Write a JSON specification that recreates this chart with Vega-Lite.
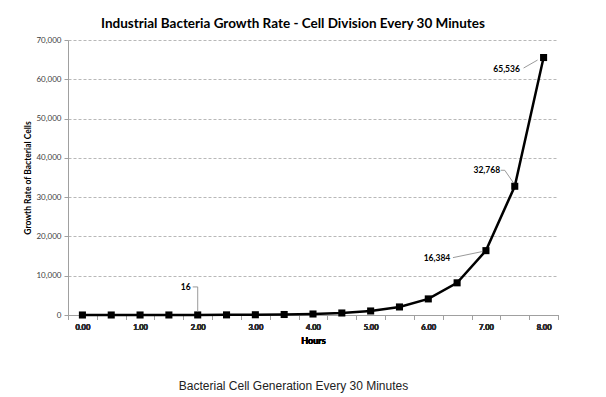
{
  "$schema": "https://vega.github.io/schema/vega-lite/v6.json",
  "autosize": {"type": "none"},
  "width": 490,
  "height": 275,
  "padding": {"left": 68, "top": 40, "right": 48, "bottom": 82},
  "background": "white",
  "config": {"font": "Lato", "view": {"stroke": null}},
  "title": {
    "text": "Industrial Bacteria Growth Rate - Cell Division Every 30 Minutes",
    "font": "Lato",
    "fontSize": 13.5,
    "fontWeight": "bold",
    "color": "#000000",
    "anchor": "middle",
    "dx": -20,
    "offset": 6
  },
  "data": {
    "values": [
      {"hours": 0, "cells": 1},
      {"hours": 0.5, "cells": 2},
      {"hours": 1, "cells": 4},
      {"hours": 1.5, "cells": 8},
      {"hours": 2, "cells": 16},
      {"hours": 2.5, "cells": 32},
      {"hours": 3, "cells": 64},
      {"hours": 3.5, "cells": 128},
      {"hours": 4, "cells": 256},
      {"hours": 4.5, "cells": 512},
      {"hours": 5, "cells": 1024},
      {"hours": 5.5, "cells": 2048},
      {"hours": 6, "cells": 4096},
      {"hours": 6.5, "cells": 8192},
      {"hours": 7, "cells": 16384},
      {"hours": 7.5, "cells": 32768},
      {"hours": 8, "cells": 65536}
    ]
  },
  "encoding": {
    "x": {
      "field": "hours",
      "type": "ordinal",
      "scale": {"type": "band", "paddingInner": 0, "paddingOuter": 0},
      "bandPosition": 0.5,
      "axis": {
        "orient": "bottom",
        "title": "Hours",
        "titleFont": "Lato",
        "titleFontSize": 9,
        "titleFontWeight": "bold",
        "titleColor": "#000000",
        "titlePadding": 6,
        "labelAngle": 0,
        "labelExpr": "datum.value % 1 == 0 ? format(datum.value, '.2f') : ''",
        "labelFontSize": 7.5,
        "labelFontWeight": "bold",
        "labelColor": "#303030",
        "labelPadding": 4,
        "tickBand": "extent",
        "tickSize": 4,
        "tickColor": "#a0a0a0",
        "domainColor": "#a0a0a0",
        "grid": false
      }
    },
    "y": {
      "field": "cells",
      "type": "quantitative",
      "scale": {"domain": [0, 70000], "nice": false},
      "axis": {
        "title": "Growth Rate of Bacterial Cells",
        "titleFont": "Lato",
        "titleFontSize": 8.5,
        "titleFontWeight": "bold",
        "titleColor": "#000000",
        "titlePadding": 3,
        "values": [0, 10000, 20000, 30000, 40000, 50000, 60000, 70000],
        "format": ",d",
        "labelFontSize": 8,
        "labelColor": "#404040",
        "labelPadding": 3,
        "tickSize": 4,
        "tickColor": "#a0a0a0",
        "domainColor": "#a0a0a0",
        "grid": true,
        "gridColor": "#b8b8b8",
        "gridDash": [3, 2],
        "gridWidth": 1
      }
    }
  },
  "layer": [
    {
      "mark": {"type": "line", "color": "#000000", "strokeWidth": 2.5}
    },
    {
      "mark": {"type": "square", "color": "#000000", "filled": true, "opacity": 1, "size": 50}
    },
    {
      "mark": {"type": "point", "opacity": 0},
      "encoding": {
        "x": {
          "field": "hours",
          "type": "ordinal",
          "bandPosition": 0.5,
          "axis": {
            "orient": "bottom",
            "title": "Bacterial Cell Generation Every 30 Minutes",
            "titleFont": "Liberation Sans",
            "titleFontSize": 12,
            "titleFontWeight": "normal",
            "titleColor": "#222222",
            "titlePadding": 65,
            "titleX": 225,
            "labels": false,
            "ticks": false,
            "domain": false,
            "grid": false
          }
        }
      }
    },
    {
      "transform": [{"filter": "datum.hours == 8"}],
      "layer": [
        {"mark": {"type": "text", "text": "65,536", "dx": -37, "dy": 11.5, "fontSize": 8.5, "fontWeight": "bold", "color": "#000000"}},
        {"mark": {"type": "rule", "color": "#808080", "strokeWidth": 0.8, "xOffset": -20, "yOffset": 10.5, "x2Offset": -6, "y2Offset": 2.5},
         "encoding": {"x2": {"field": "hours"}, "y2": {"field": "cells"}}}
      ]
    },
    {
      "transform": [{"filter": "datum.hours == 7.5"}],
      "layer": [
        {"mark": {"type": "text", "text": "32,768", "dx": -28, "dy": -16, "fontSize": 8.5, "fontWeight": "bold", "color": "#000000"}},
        {"mark": {"type": "rule", "color": "#808080", "strokeWidth": 0.8, "xOffset": -14, "yOffset": -16, "x2Offset": -10, "y2Offset": -16},
         "encoding": {"x2": {"field": "hours"}, "y2": {"field": "cells"}}},
        {"mark": {"type": "rule", "color": "#808080", "strokeWidth": 0.8, "xOffset": -10, "yOffset": -16, "x2Offset": -1, "y2Offset": -3},
         "encoding": {"x2": {"field": "hours"}, "y2": {"field": "cells"}}}
      ]
    },
    {
      "transform": [{"filter": "datum.hours == 7"}],
      "layer": [
        {"mark": {"type": "text", "text": "16,384", "dx": -49, "dy": 7, "fontSize": 8.5, "fontWeight": "bold", "color": "#000000"}},
        {"mark": {"type": "rule", "color": "#808080", "strokeWidth": 0.8, "xOffset": -33, "yOffset": 7, "x2Offset": -4, "y2Offset": 1},
         "encoding": {"x2": {"field": "hours"}, "y2": {"field": "cells"}}}
      ]
    },
    {
      "transform": [{"filter": "datum.hours == 2"}],
      "layer": [
        {"mark": {"type": "text", "text": "16", "dx": -12, "dy": -28, "fontSize": 8.5, "fontWeight": "bold", "color": "#000000"}},
        {"mark": {"type": "rule", "color": "#808080", "strokeWidth": 0.8, "xOffset": -5, "yOffset": -28, "x2Offset": 0, "y2Offset": -28},
         "encoding": {"x2": {"field": "hours"}, "y2": {"field": "cells"}}},
        {"mark": {"type": "rule", "color": "#808080", "strokeWidth": 0.8, "xOffset": 0, "yOffset": -28, "x2Offset": 0, "y2Offset": -3},
         "encoding": {"x2": {"field": "hours"}, "y2": {"field": "cells"}}}
      ]
    }
  ],
  "resolve": {"axis": {"x": "independent"}}
}
